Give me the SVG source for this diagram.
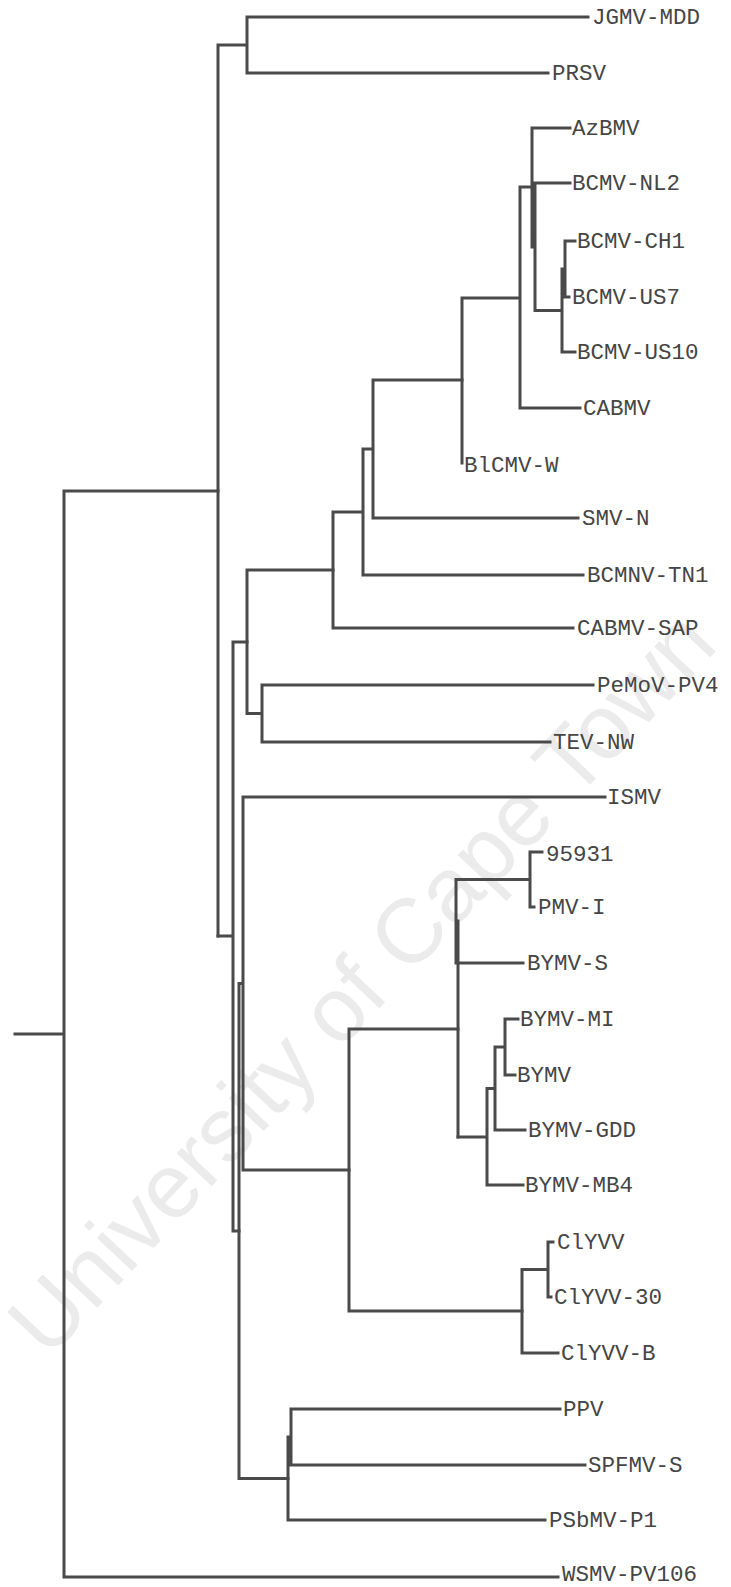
<svg xmlns="http://www.w3.org/2000/svg" width="731" height="1587" viewBox="0 0 731 1587">
<style>
.br{fill:none;stroke:#4a4a4a;stroke-width:3;stroke-linecap:square;stroke-linejoin:miter}
.lb{font-family:"Liberation Mono","DejaVu Sans Mono",monospace;font-size:22.5px;fill:#454545}
.wm{font-family:"Liberation Sans",Arial,sans-serif;font-size:91px;fill:#ebebeb}
</style>
<rect width="731" height="1587" fill="#ffffff"/>
<text class="wm" transform="translate(48,1360) rotate(-46.7)">University of Cape Town</text>
<g id="connectors" class="br">
<path d="M15,1034 H64 M64,491 V1577 M64,491 H218 M64,1577 H558"/>
<path d="M218,45 V936 M218,45 H247 M247,17 V73 M247,17 H588 M247,73 H548"/>
<path d="M218,936 H233 M233,642 V1231 M233,642 H247 M233,1231 H239"/>
<path d="M247,570 V713.5 M247,570 H333 M247,713.5 H262 M262,685 V742 M262,685 H593 M262,742 H550"/>
<path d="M333,512 V628 M333,512 H363 M333,628 H573 M363,449 V575 M363,449 H373 M363,575 H583 M373,380 V518 M373,380 H462 M373,518 H578"/>
<path d="M462,298 V463 M462,298 H520 M520,187 V408 M520,187 H532 M520,408 H580"/>
<path d="M532,128 V247 M532,128 H570 M532,247 H535 M535,183 V310.5 M535,183 H570 M535,310.5 H562 M562,269 V352 M562,352 H575 M562,269 H565 M565,241 V297 M565,241 H575 M565,297 H569"/>
<path d="M239,983.5 V1478.5 M239,983.5 H243 M239,1478.5 H288 M243,797 V1170 M243,797 H605 M243,1170 H349"/>
<path d="M349,1029 V1311 M349,1029 H458 M349,1311 H522"/>
<path d="M458,921 V1137 M458,921 H456 M456,879.5 V963 M456,879.5 H530 M456,963 H523 M530,852 V907 M530,852 H542 M530,907 H534"/>
<path d="M458,1137 H487 M487,1088.5 V1185 M487,1185 H523 M487,1088.5 H495 M495,1047 V1130 M495,1130 H525 M495,1047 H505 M505,1019 V1075 M505,1019 H518 M505,1075 H515"/>
<path d="M522,1269.5 V1353 M522,1269.5 H548 M522,1353 H558 M548,1242 V1297 M548,1242 H553 M548,1297 H551"/>
<path d="M288,1437 V1520 M288,1437 H291 M291,1409 V1465 M291,1409 H560 M291,1465 H585 M288,1520 H545"/>
</g>
<g id="n-JGMV-MDD"><text class="lb" x="592" y="24">JGMV-MDD</text></g>
<g id="n-PRSV"><text class="lb" x="552" y="80">PRSV</text></g>
<g id="n-AzBMV"><text class="lb" x="572" y="135">AzBMV</text></g>
<g id="n-BCMV-NL2"><text class="lb" x="572" y="190">BCMV-NL2</text></g>
<g id="n-BCMV-CH1"><text class="lb" x="577" y="248">BCMV-CH1</text></g>
<g id="n-BCMV-US7"><text class="lb" x="572" y="304">BCMV-US7</text></g>
<g id="n-BCMV-US10"><text class="lb" x="577" y="359">BCMV-US10</text></g>
<g id="n-CABMV"><text class="lb" x="583" y="415">CABMV</text></g>
<g id="n-BlCMV-W"><text class="lb" x="464" y="472">BlCMV-W</text></g>
<g id="n-SMV-N"><text class="lb" x="582" y="525">SMV-N</text></g>
<g id="n-BCMNV-TN1"><text class="lb" x="587" y="582">BCMNV-TN1</text></g>
<g id="n-CABMV-SAP"><text class="lb" x="577" y="635">CABMV-SAP</text></g>
<g id="n-PeMoV-PV4"><text class="lb" x="597" y="692">PeMoV-PV4</text></g>
<g id="n-TEV-NW"><text class="lb" x="553" y="749">TEV-NW</text></g>
<g id="n-ISMV"><text class="lb" x="607" y="804">ISMV</text></g>
<g id="n-95931"><text class="lb" x="546" y="861">95931</text></g>
<g id="n-PMV-I"><text class="lb" x="538" y="914">PMV-I</text></g>
<g id="n-BYMV-S"><text class="lb" x="527" y="970">BYMV-S</text></g>
<g id="n-BYMV-MI"><text class="lb" x="520" y="1026">BYMV-MI</text></g>
<g id="n-BYMV"><text class="lb" x="517" y="1082">BYMV</text></g>
<g id="n-BYMV-GDD"><text class="lb" x="528" y="1137">BYMV-GDD</text></g>
<g id="n-BYMV-MB4"><text class="lb" x="525" y="1192">BYMV-MB4</text></g>
<g id="n-ClYVV"><text class="lb" x="557" y="1249">ClYVV</text></g>
<g id="n-ClYVV-30"><text class="lb" x="554" y="1304">ClYVV-30</text></g>
<g id="n-ClYVV-B"><text class="lb" x="561" y="1360">ClYVV-B</text></g>
<g id="n-PPV"><text class="lb" x="563" y="1416">PPV</text></g>
<g id="n-SPFMV-S"><text class="lb" x="588" y="1472">SPFMV-S</text></g>
<g id="n-PSbMV-P1"><text class="lb" x="549" y="1527">PSbMV-P1</text></g>
<g id="n-WSMV-PV106"><text class="lb" x="562" y="1581">WSMV-PV106</text></g>
</svg>
